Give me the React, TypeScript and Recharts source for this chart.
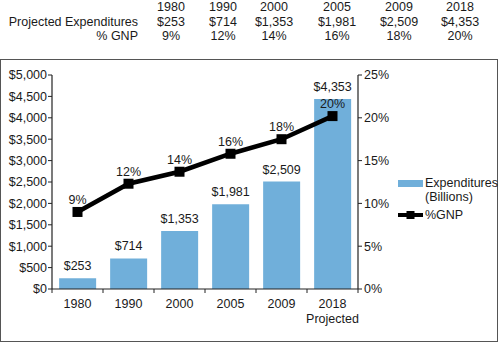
import React from "react";
import {
  ComposedChart,
  Bar,
  Line,
  XAxis,
  YAxis,
  LabelList,
  Legend,
} from "recharts";

const years = ["1980", "1990", "2000", "2005", "2009", "2018"];
// values printed in the labels / table
const expenditures = [253, 714, 1353, 1981, 2509, 4353];
// bar heights as drawn in the picture (the 2018 bar is drawn taller than its label)
const barHeights = [253, 714, 1353, 1981, 2509, 4440];
const gnpPct = [9.0, 12.3, 13.7, 15.8, 17.5, 20.2];
const gnpLabels = ["9%", "12%", "14%", "16%", "18%", "20%"];
const leftTicks = [0, 500, 1000, 1500, 2000, 2500, 3000, 3500, 4000, 4500, 5000];
const rightTicks = [0, 5, 10, 15, 20, 25];
const projectedYear = "2018";

const fmtDollar = (v: number) => "$" + v.toLocaleString("en-US");

const data = years.map((y, i) => ({
  year: y,
  exp: barHeights[i],
  expLabel: fmtDollar(expenditures[i]),
  gnp: gnpPct[i],
  gnpLabel: gnpLabels[i],
}));

const FONT = "'Liberation Sans', Arial, Helvetica, sans-serif";
const FS = 12.5;
const BAR = "#70afda";
const TXT = "#1a1a1a";

const tableCols = [171, 223, 274, 337, 399, 460];

const XTick = (props: any) => {
  const { x, y, payload, index } = props;
  const half = payload && payload.offset ? payload.offset : 25.5;
  const last = index === years.length - 1;
  return (
    <g>
      <line x1={x - half} x2={x - half} y1={y} y2={y + 4} stroke="#222" strokeWidth={1} />
      {last && (
        <line x1={x + half} x2={x + half} y1={y} y2={y + 4} stroke="#222" strokeWidth={1} />
      )}
      <text x={x} y={y + 18.5} textAnchor="middle" fontSize={FS} fontFamily={FONT} fill={TXT}>
        {payload.value}
      </text>
      {payload.value === projectedYear && (
        <text x={x} y={y + 34} textAnchor="middle" fontSize={FS} fontFamily={FONT} fill={TXT}>
          Projected
        </text>
      )}
    </g>
  );
};

const SquareDot = (props: any) => {
  const { cx, cy } = props;
  if (cx == null || cy == null) return null;
  return <rect x={cx - 5} y={cy - 5} width={10} height={10} fill="#000" />;
};

const LegendContent = () => (
  <div style={{ fontFamily: FONT, fontSize: FS, color: TXT, lineHeight: "14px" }}>
    <div style={{ display: "flex", alignItems: "flex-start" }}>
      <div style={{ width: 25, height: 7, background: BAR, marginTop: 4, marginRight: 2 }} />
      <div>
        Expenditures
        <br />
        (Billions)
      </div>
    </div>
    <div style={{ display: "flex", alignItems: "center", marginTop: 4 }}>
      <svg width={26} height={10} style={{ marginRight: 1 }}>
        <line x1={0} x2={25} y1={5} y2={5} stroke="#000" strokeWidth={4} />
        <rect x={8.5} y={1} width={8} height={8} fill="#000" />
      </svg>
      <div>%GNP</div>
    </div>
  </div>
);

export default function App() {
  return (
    <div
      style={{
        position: "absolute",
        left: 0,
        top: 0,
        width: 499,
        height: 343,
        background: "#fff",
        overflow: "hidden",
      }}
    >
      {/* top table */}
      <div style={{ position: "absolute", left: 0, top: 0, width: 499, height: 50, fontFamily: FONT, fontSize: FS, color: TXT }}>
        <div style={{ position: "absolute", right: 499 - 138, top: 15, whiteSpace: "nowrap", lineHeight: "14px" }}>
          Projected Expenditures
        </div>
        <div style={{ position: "absolute", right: 499 - 138, top: 29, whiteSpace: "nowrap", lineHeight: "14px" }}>
          % GNP
        </div>
        {years.map((y, i) => (
          <div
            key={y}
            style={{
              position: "absolute",
              left: tableCols[i] - 40,
              width: 80,
              top: 0,
              textAlign: "center",
              lineHeight: "14.5px",
              whiteSpace: "nowrap",
            }}
          >
            <div>{y}</div>
            <div>{fmtDollar(expenditures[i])}</div>
            <div>{gnpLabels[i]}</div>
          </div>
        ))}
      </div>

      {/* frame */}
      <div
        style={{
          position: "absolute",
          left: 0,
          top: 59,
          width: 496,
          height: 281,
          border: "1.5px solid #555",
        }}
      />

      <div style={{ position: "absolute", left: 0, top: 0 }}>
        <ComposedChart
          width={499}
          height={343}
          data={data}
          margin={{ top: 75, right: 91, left: 2, bottom: 24 }}
          barCategoryGap="14%"
        >
          <XAxis
            dataKey="year"
            xAxisId={0}
            tick={<XTick />}
            tickLine={false}
            tickSize={0}
            tickMargin={0}
            axisLine={{ stroke: "#222", strokeWidth: 1.2 }}
            height={30}
            interval={0}
          />
          <YAxis
            yAxisId="left"
            orientation="left"
            width={50}
            domain={[0, 5000]}
            ticks={leftTicks}
            tickFormatter={fmtDollar}
            tickSize={4}
            tickMargin={1}
            axisLine={{ stroke: "#222", strokeWidth: 1.2 }}
            tickLine={{ stroke: "#222" }}
            tick={{ fontSize: FS, fontFamily: FONT, fill: TXT }}
            interval={0}
          />
          <YAxis
            yAxisId="right"
            orientation="right"
            width={50}
            domain={[0, 25]}
            ticks={rightTicks}
            tickFormatter={(v: number) => v + "%"}
            tickSize={4}
            tickMargin={2}
            axisLine={{ stroke: "#222", strokeWidth: 1.2 }}
            tickLine={{ stroke: "#222" }}
            tick={{ fontSize: FS, fontFamily: FONT, fill: TXT, textAnchor: "start" }}
            interval={0}
          />
          <Bar dataKey="exp" yAxisId="left" fill={BAR} isAnimationActive={false} name="Expenditures (Billions)">
            <LabelList
              dataKey="expLabel"
              position="top"
              offset={8}
              style={{ fontSize: FS, fontFamily: FONT, fill: TXT }}
            />
          </Bar>
          <Line
            dataKey="gnp"
            yAxisId="right"
            stroke="#000"
            strokeWidth={4.5}
            dot={<SquareDot />}
            activeDot={false}
            isAnimationActive={false}
            name="%GNP"
          >
            <LabelList
              dataKey="gnpLabel"
              position="top"
              offset={8}
              style={{ fontSize: FS, fontFamily: FONT, fill: TXT }}
            />
          </Line>
          <Legend
            layout="vertical"
            align="center"
            verticalAlign="middle"
            content={<LegendContent />}
            wrapperStyle={{ position: "absolute", left: 398, top: 176, width: 100 }}
          />
        </ComposedChart>
      </div>
    </div>
  );
}
